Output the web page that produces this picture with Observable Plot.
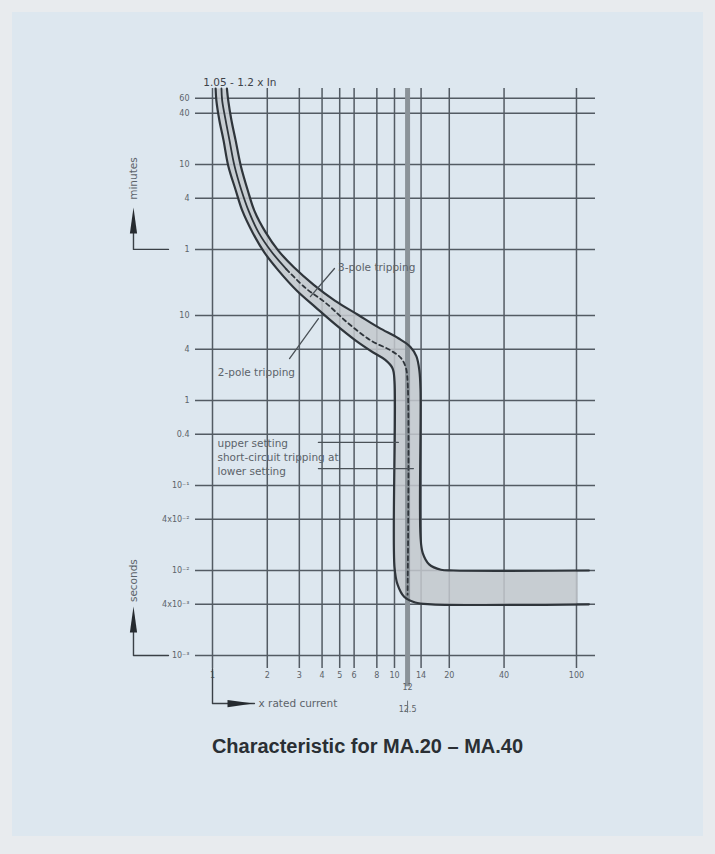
<!DOCTYPE html>
<html>
<head>
<meta charset="utf-8">
<script src="https://cdn.jsdelivr.net/npm/d3@7"></script>
<script src="https://cdn.jsdelivr.net/npm/@observablehq/plot@0.6"></script>
<style>
  html, body { margin: 0; padding: 0; background: #e8ebee; }
  #page { position: relative; width: 715px; height: 854px; overflow: hidden; }
  #panel { position: absolute; left: 12px; top: 12px; width: 691px; height: 824px; background: #dde7ef; }
  #chart { position: absolute; left: 0; top: 0; }
  #title { position: absolute; left: 10px; top: 735px; width: 715px; text-align: center;
           font: bold 20px "Liberation Sans", Arial, sans-serif; color: #2a2f34; }
</style>
</head>
<body>
<div id="page">
  <div id="panel"></div>
  <div id="chart"></div>
  <div id="title">Characteristic for MA.20 – MA.40</div>
</div>
<script>
// ---- axis ticks (x = multiple of rated current, y = tripping time in seconds) ----
const xTicks = [1, 2, 3, 4, 5, 6, 8, 10, 14, 20, 40, 100];
const xTickLabels = ["1", "2", "3", "4", "5", "6", "8", "10", "14", "20", "40", "100"];
const yTicks = [3600, 2400, 600, 240, 60, 10, 4, 1, 0.4, 0.1, 0.04, 0.01, 0.004, 0.001];
const yTickLabels = ["60", "40", "10", "4", "1", "10", "4", "1", "0.4", "10⁻¹", "4x10⁻²", "10⁻²", "4x10⁻³", "10⁻³"];
const settingLine = [11.8];
const settingLabels = ["12", "12.5"];

// ---- tripping curves: [multiple of In, seconds] ----
const upperCurve = [
  [1.2, 4690], [1.22, 3400], [1.27, 2000], [1.34, 1150], [1.43, 580], [1.56, 300], [1.7, 170],
  [1.96, 95], [2.3, 58], [2.8, 37], [3.6, 23], [4.7, 15], [6.3, 10.2], [8.2, 7.2], [10.5, 5.4],
  [12.2, 4.3], [13.2, 3.3], [13.7, 2.25], [13.9, 1.3], [13.9, 0.025], [14.3, 0.016],
  [15.5, 0.0118], [18, 0.0102], [21, 0.01], [117, 0.01]
];
const lowerCurve = [
  [1.04, 4690], [1.05, 3400], [1.09, 2000], [1.15, 1150], [1.22, 580], [1.34, 300], [1.46, 170],
  [1.66, 95], [1.93, 55], [2.3, 34], [2.9, 19.7], [3.7, 12.4], [4.75, 7.8], [6.1, 5.1],
  [7.6, 3.7], [8.9, 3.0], [9.75, 2.4], [10, 1.7], [10, 0.011], [10.4, 0.0068], [11.3, 0.0049],
  [13, 0.0042], [16, 0.004], [117, 0.004]
];
const twoPoleSolid = [
  [1.12, 4690], [1.13, 3400], [1.18, 2000], [1.24, 1150], [1.32, 580], [1.44, 300], [1.58, 170],
  [1.79, 95], [2.1, 57], [2.55, 35]
];
const twoPoleDashed = [
  [2.55, 35], [3.25, 21], [4.2, 14], [5.5, 8.3], [7.4, 5.1], [9.5, 3.9], [10.8, 3.2],
  [11.5, 2.5], [11.8, 1.7], [11.8, 0.0052]
];
const bandEnd = 100; // shading stops at 100 x In

// ---- annotation anchors (data coordinates) ----
const curveNotes = [
  {x: 4.9, y: 36.7, text: "3-pole tripping"},
  {x: 1.07, y: 2.13, text: "2-pole tripping"},
  {x: 1.065, y: 0.312, text: "upper setting"},
  {x: 1.065, y: 0.213, text: "short-circuit tripping at"},
  {x: 1.065, y: 0.146, text: "lower setting"}
];
const leaders = [
  [[4.68, 35.7], [3.45, 16.7]],
  [[2.65, 3.12], [3.82, 9.2]],
  [[3.82, 0.321], [10.5, 0.321]],
  [[3.82, 0.158], [12.7, 0.158]]
];
const minutesBracket = [[0.573, 60], [0.368, 60], [0.368, 100]];
const secondsBracket = [[0.573, 0.001], [0.368, 0.001], [0.368, 0.0019]];
const currentBracket = [[1, 0.0007], [1, 0.000272], [1.7, 0.000272]];
const settingRuleBottom = 0.00043;

const P = a => a.map(([x, y]) => ({x, y}));
const uEnd = upperCurve[upperCurve.length - 1][1];
const lEnd = lowerCurve[lowerCurve.length - 1][1];
const band = P(
  upperCurve.filter(d => d[0] < bandEnd)
    .concat([[bandEnd * 0.99, uEnd], [bandEnd, uEnd], [bandEnd, lEnd], [bandEnd * 0.99, lEnd]])
    .concat(lowerCurve.filter(d => d[0] < bandEnd).reverse())
);

const gridColor = "#535b63";
const curveColor = "#2f353b";
const textColor = "#5c636a";
const font = "DejaVu Sans, sans-serif";

const upTri = {draw(ctx) { ctx.moveTo(0, -13); ctx.lineTo(3.6, 13); ctx.lineTo(-3.6, 13); ctx.closePath(); }};
const rightTri = {draw(ctx) { ctx.moveTo(13, 0); ctx.lineTo(-13, -3.6); ctx.lineTo(-13, 3.6); ctx.closePath(); }};

const chart = Plot.plot({
  width: 715,
  height: 730,
  marginLeft: 195,
  marginRight: 120,
  marginTop: 88,
  marginBottom: 62,
  x: {type: "log", domain: [0.8065, 127.2], axis: null},
  y: {type: "log", domain: [0.000703, 4688], axis: null},
  style: {background: "transparent", fontFamily: font, overflow: "visible"},
  marks: [
    // grid
    Plot.ruleY(yTicks, {y: d => d, stroke: gridColor, strokeWidth: 1.5}),
    Plot.ruleX(xTicks, {x: d => d, stroke: gridColor, strokeWidth: 1.5}),
    // tripping band
    Plot.line(band, {x: "x", y: "y", fill: "#c3c8cd", fillOpacity: 0.85, stroke: "none", curve: "catmull-rom"}),
    // short-circuit setting line
    Plot.ruleX(settingLine, {x: d => d, y1: settingRuleBottom, y2: 4688, stroke: "#8b9399", strokeWidth: 5}),
    // curves
    Plot.line(P(upperCurve), {x: "x", y: "y", stroke: curveColor, strokeWidth: 2.2, curve: "catmull-rom"}),
    Plot.line(P(lowerCurve), {x: "x", y: "y", stroke: curveColor, strokeWidth: 2.2, curve: "catmull-rom"}),
    Plot.line(P(twoPoleSolid), {x: "x", y: "y", stroke: curveColor, strokeWidth: 1.8, curve: "catmull-rom"}),
    Plot.line(P(twoPoleDashed), {x: "x", y: "y", stroke: curveColor, strokeWidth: 1.8, strokeDasharray: "4,3.5", curve: "catmull-rom"}),
    // tick labels
    Plot.text(yTicks, {y: d => d, text: (d, i) => yTickLabels[i], frameAnchor: "left", dx: -6, textAnchor: "end", fontSize: 8, fill: textColor}),
    Plot.text(xTicks, {x: d => d, text: (d, i) => xTickLabels[i], frameAnchor: "bottom", dy: 9, fontSize: 8, fill: textColor}),
    Plot.text([settingLabels[0]], {x: () => settingLine[0], text: d => d, frameAnchor: "bottom", dy: 21, fontSize: 8, fill: textColor}),
    Plot.text([settingLabels[1]], {x: () => settingLine[0], text: d => d, frameAnchor: "bottom", dy: 43, fontSize: 8, fill: textColor}),
    Plot.ruleX(settingLine, {x: d => d, y1: 0.00029, y2: 0.00021, stroke: "#6d747a", strokeWidth: 1}),
    // top label
    Plot.text(["1.05 - 1.2 x In"], {x: () => 0.89, text: d => d, frameAnchor: "top", dy: -10, textAnchor: "start", fontSize: 10.5, fill: "#3d4349"}),
    // curve notes
    Plot.text(curveNotes, {x: "x", y: "y", text: "text", textAnchor: "start", fontSize: 10.5, fill: textColor}),
    ...leaders.map(l => Plot.line(P(l), {x: "x", y: "y", stroke: "#4a5157", strokeWidth: 1.3})),
    // minutes / seconds brackets
    Plot.line(P(minutesBracket), {x: "x", y: "y", stroke: "#3a4046", strokeWidth: 1.4}),
    Plot.dot([[0.368, 131]], {x: d => d[0], y: d => d[1], symbol: upTri, fill: "#262b30", stroke: "none"}),
    Plot.text(["minutes"], {x: () => 0.368, y: () => 409, text: d => d, rotate: -90, fontSize: 10.5, fill: textColor}),
    Plot.line(P(secondsBracket), {x: "x", y: "y", stroke: "#3a4046", strokeWidth: 1.4}),
    Plot.dot([[0.368, 0.00265]], {x: d => d[0], y: d => d[1], symbol: upTri, fill: "#262b30", stroke: "none"}),
    Plot.text(["seconds"], {x: () => 0.368, y: () => 0.0076, text: d => d, rotate: -90, fontSize: 10.5, fill: textColor}),
    // x-axis bracket
    Plot.line(P(currentBracket), {x: "x", y: "y", stroke: "#3a4046", strokeWidth: 1.4}),
    Plot.dot([[1.425, 0.000272]], {x: d => d[0], y: d => d[1], symbol: rightTri, fill: "#262b30", stroke: "none"}),
    Plot.text(["x rated current"], {x: () => 1.79, y: () => 0.000272, text: d => d, textAnchor: "start", fontSize: 10.5, fill: textColor})
  ]
});
document.getElementById("chart").appendChild(chart);
</script>
</body>
</html>
